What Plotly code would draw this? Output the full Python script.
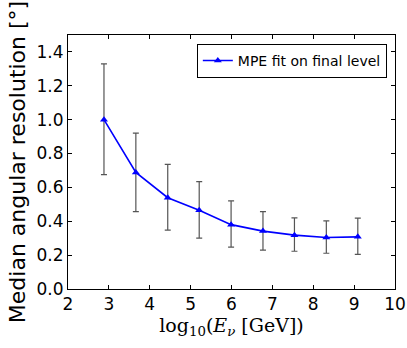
import plotly.graph_objects as go

log_energy = [2.88, 3.66, 4.44, 5.21, 5.99, 6.77, 7.54, 8.32, 9.09]
median_res = [1.000, 0.688, 0.539, 0.465, 0.380, 0.342, 0.318, 0.304, 0.308]
upper = [1.330, 0.921, 0.736, 0.634, 0.521, 0.457, 0.420, 0.402, 0.418]
lower = [0.676, 0.457, 0.348, 0.300, 0.247, 0.229, 0.223, 0.211, 0.205]

err_plus = [u - m for u, m in zip(upper, median_res)]
err_minus = [m - l for l, m in zip(lower, median_res)]

fig = go.Figure()
fig.add_trace(go.Scatter(
    x=log_energy, y=median_res,
    mode="lines+markers",
    name="MPE fit on final level",
    line=dict(color="#0000ff", width=1.6),
    marker=dict(symbol="triangle-up", size=7, color="#0000ff"),
    error_y=dict(type="data", symmetric=False, array=err_plus, arrayminus=err_minus,
                 color="#555555", thickness=1.2, width=3),
))

axis_common = dict(
    showgrid=False, zeroline=False, showline=True, linecolor="black", linewidth=1,
    mirror="allticks", ticks="inside", ticklen=4, tickcolor="black", automargin=False,
    tickfont=dict(family="DejaVu Sans", size=17, color="black"),
)

fig.update_layout(
    width=407, height=348,
    margin=dict(l=68, r=12, t=35, b=59),
    plot_bgcolor="white", paper_bgcolor="white",
    xaxis=dict(range=[2, 10], dtick=1, **axis_common,
               title=dict(text="log<sub>10</sub>(<i>E</i><sub><i>ν</i></sub> [GeV])",
                          font=dict(family="DejaVu Serif", size=19, color="black"),
                          standoff=2)),
    yaxis=dict(range=[0, 1.5], tickvals=[0, 0.2, 0.4, 0.6, 0.8, 1.0, 1.2, 1.4],
               tickformat=".1f", **axis_common,
               title=dict(text="Median angular resolution [°]",
                          font=dict(family="DejaVu Sans", size=22, color="black"),
                          standoff=4)),
    legend=dict(x=0.975, y=0.965, xanchor="right", yanchor="top",
                bordercolor="black", borderwidth=1, bgcolor="white",
                font=dict(family="DejaVu Sans", size=14, color="black")),
    showlegend=True,
)

# page body has a default 8px margin, drop it so the figure sits at 0,0
fig.write_html("out.html", config={"displayModeBar": False},
               post_script="document.body.style.margin='0px';")
